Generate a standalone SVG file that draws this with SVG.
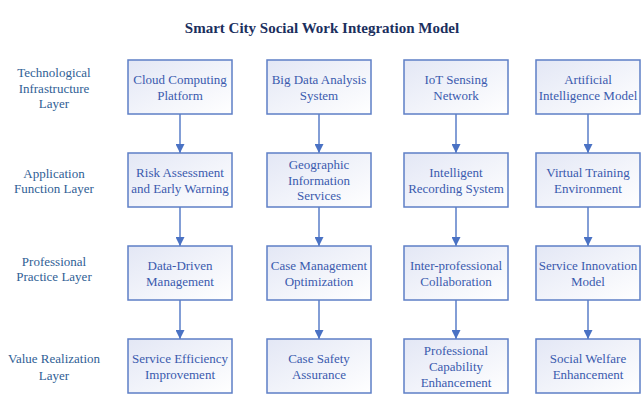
<svg xmlns="http://www.w3.org/2000/svg" width="643" height="403" viewBox="0 0 643 403">
<defs>
<linearGradient id="g" x1="0" y1="0" x2="1" y2="1">
<stop offset="0" stop-color="#E3E7F5"/>
<stop offset="1" stop-color="#FFFFFF"/>
</linearGradient>
<marker id="ah" markerWidth="9" markerHeight="9" viewBox="0 0 10 10" refX="10" refY="5" orient="auto" markerUnits="userSpaceOnUse">
<path d="M0,0 L10,5 L0,10 Z" fill="#4A72C4"/>
</marker>
</defs>
<style>
.box{fill:url(#g);stroke:#5E7FC6;stroke-width:1.5}
.t{font-size:13px;fill:#3A5AAE;text-anchor:middle}
.l{font-size:13px;fill:#2F6095;text-anchor:middle}
.title{font-size:15px;font-weight:bold;fill:#1B2F5E;text-anchor:middle}
.c{stroke:#5A7EC8;stroke-width:1.5;fill:none}
</style>
<rect width="643" height="403" fill="#FFFFFF"/>
<g font-family="Liberation Serif, Tinos, Times New Roman, serif">
<text class="title" x="322" y="33">Smart City Social Work Integration Model</text>

<g id="layers">
<text class="l" x="54" y="77">Technological</text>
<text class="l" x="54" y="93">Infrastructure</text>
<text class="l" x="54" y="108">Layer</text>
<text class="l" x="54" y="178">Application</text>
<text class="l" x="54" y="193">Function Layer</text>
<text class="l" x="54" y="266">Professional</text>
<text class="l" x="54" y="281">Practice Layer</text>
<text class="l" x="54" y="363">Value Realization</text>
<text class="l" x="54" y="380">Layer</text>
</g>

<g id="connectors">
<line class="c" x1="180" y1="114" x2="180" y2="153" marker-end="url(#ah)"/>
<line class="c" x1="319" y1="114" x2="319" y2="153" marker-end="url(#ah)"/>
<line class="c" x1="456" y1="114" x2="456" y2="153" marker-end="url(#ah)"/>
<line class="c" x1="588" y1="114" x2="588" y2="153" marker-end="url(#ah)"/>
<line class="c" x1="180" y1="207" x2="180" y2="246" marker-end="url(#ah)"/>
<line class="c" x1="319" y1="207" x2="319" y2="246" marker-end="url(#ah)"/>
<line class="c" x1="456" y1="207" x2="456" y2="246" marker-end="url(#ah)"/>
<line class="c" x1="588" y1="207" x2="588" y2="246" marker-end="url(#ah)"/>
<line class="c" x1="180" y1="300" x2="180" y2="339" marker-end="url(#ah)"/>
<line class="c" x1="319" y1="300" x2="319" y2="339" marker-end="url(#ah)"/>
<line class="c" x1="456" y1="300" x2="456" y2="339" marker-end="url(#ah)"/>
<line class="c" x1="588" y1="300" x2="588" y2="339" marker-end="url(#ah)"/>
</g>

<g id="n-cloud"><rect class="box" x="128" y="60" width="104" height="54"/><text class="t" x="180" y="84">Cloud Computing</text><text class="t" x="180" y="100">Platform</text></g>
<g id="n-bigdata"><rect class="box" x="267" y="60" width="104" height="54"/><text class="t" x="319" y="84">Big Data Analysis</text><text class="t" x="319" y="100">System</text></g>
<g id="n-iot"><rect class="box" x="404" y="60" width="104" height="54"/><text class="t" x="456" y="84">IoT Sensing</text><text class="t" x="456" y="100">Network</text></g>
<g id="n-ai"><rect class="box" x="536" y="60" width="104" height="54"/><text class="t" x="588" y="84">Artificial</text><text class="t" x="588" y="100">Intelligence Model</text></g>

<g id="n-risk"><rect class="box" x="128" y="153" width="104" height="54"/><text class="t" x="180" y="177">Risk Assessment</text><text class="t" x="180" y="193">and Early Warning</text></g>
<g id="n-gis"><rect class="box" x="267" y="153" width="104" height="54"/><text class="t" x="319" y="169">Geographic</text><text class="t" x="319" y="185">Information</text><text class="t" x="319" y="200">Services</text></g>
<g id="n-record"><rect class="box" x="404" y="153" width="104" height="54"/><text class="t" x="456" y="177">Intelligent</text><text class="t" x="456" y="193">Recording System</text></g>
<g id="n-vr"><rect class="box" x="536" y="153" width="104" height="54"/><text class="t" x="588" y="177">Virtual Training</text><text class="t" x="588" y="193">Environment</text></g>

<g id="n-data"><rect class="box" x="128" y="246" width="104" height="54"/><text class="t" x="180" y="270">Data-Driven</text><text class="t" x="180" y="286">Management</text></g>
<g id="n-case"><rect class="box" x="267" y="246" width="104" height="54"/><text class="t" x="319" y="270">Case Management</text><text class="t" x="319" y="286">Optimization</text></g>
<g id="n-inter"><rect class="box" x="404" y="246" width="104" height="54"/><text class="t" x="456" y="270">Inter-professional</text><text class="t" x="456" y="286">Collaboration</text></g>
<g id="n-innov"><rect class="box" x="536" y="246" width="104" height="54"/><text class="t" x="588" y="270">Service Innovation</text><text class="t" x="588" y="286">Model</text></g>

<g id="n-eff"><rect class="box" x="128" y="339" width="104" height="54"/><text class="t" x="180" y="363">Service Efficiency</text><text class="t" x="180" y="379">Improvement</text></g>
<g id="n-safety"><rect class="box" x="267" y="339" width="104" height="54"/><text class="t" x="319" y="363">Case Safety</text><text class="t" x="319" y="379">Assurance</text></g>
<g id="n-cap"><rect class="box" x="404" y="339" width="104" height="54"/><text class="t" x="456" y="355">Professional</text><text class="t" x="456" y="371">Capability</text><text class="t" x="456" y="387">Enhancement</text></g>
<g id="n-welfare"><rect class="box" x="536" y="339" width="104" height="54"/><text class="t" x="588" y="363">Social Welfare</text><text class="t" x="588" y="379">Enhancement</text></g>
</g>
</svg>
